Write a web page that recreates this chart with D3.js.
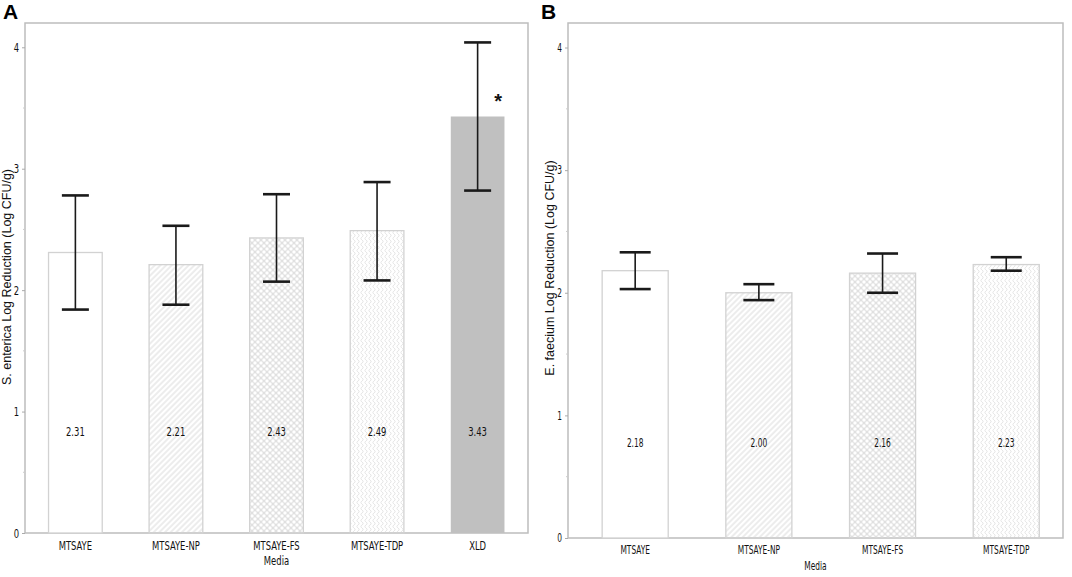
<!DOCTYPE html>
<html>
<head>
<meta charset="utf-8">
<script src="https://cdn.jsdelivr.net/npm/d3@7"></script>
<style>
  body { margin: 0; background: #fff; }
  svg { display: block; }
  .narrow { font-family: "Liberation Sans Narrow", "Arial Narrow", "DejaVu Sans Condensed", sans-serif; }
</style>
</head>
<body>
<svg id="fig" width="1072" height="577"></svg>
<script>
// Panel A: S. enterica
const mediaA = ["MTSAYE", "MTSAYE-NP", "MTSAYE-FS", "MTSAYE-TDP", "XLD"];
const meansA = [2.31, 2.21, 2.43, 2.49, 3.43];
const upperA = [2.78, 2.53, 2.79, 2.89, 4.04];
const lowerA = [1.84, 1.88, 2.07, 2.08, 2.82];
const fillsA = ["none", "hatch", "cross", "wave", "solid"];

// Panel B: E. faecium
const mediaB = ["MTSAYE", "MTSAYE-NP", "MTSAYE-FS", "MTSAYE-TDP"];
const meansB = [2.18, 2.00, 2.16, 2.23];
const upperB = [2.33, 2.07, 2.32, 2.29];
const lowerB = [2.03, 1.94, 2.00, 2.18];
const fillsB = ["none", "hatch", "cross", "wave"];

const yTicks = [0, 1, 2, 3, 4];
const yMinor = [0.5, 1.5, 2.5, 3.5];

const SX = 0.72; // horizontal squeeze to mimic the condensed face

const svg = d3.select("#fig");
const defs = svg.append("defs");

// fill patterns
const hatch = defs.append("pattern").attr("id", "hatch")
    .attr("patternUnits", "userSpaceOnUse").attr("width", 4).attr("height", 4)
    .attr("patternTransform", "rotate(45)");
hatch.append("line").attr("x1", 1).attr("y1", 0).attr("x2", 1).attr("y2", 4)
    .attr("stroke", "#d6d6d6").attr("stroke-width", 0.9);

const cross = defs.append("pattern").attr("id", "cross")
    .attr("patternUnits", "userSpaceOnUse").attr("width", 6).attr("height", 6);
[[3, 3], [0, 0], [6, 0], [0, 6], [6, 6]].forEach(c => {
    cross.append("circle").attr("cx", c[0]).attr("cy", c[1]).attr("r", 2.6)
        .attr("fill", "none").attr("stroke", "#dcdcdc").attr("stroke-width", 0.7);
});

const wave = defs.append("pattern").attr("id", "wave")
    .attr("patternUnits", "userSpaceOnUse").attr("width", 4).attr("height", 6);
wave.append("path").attr("d", "M2,0 C3.5,1 3.5,2 2,3 C0.5,4 0.5,5 2,6")
    .attr("fill", "none").attr("stroke", "#dadada").attr("stroke-width", 0.7);

function fillFor(f) {
    if (f === "solid") return "#c0c0c0";
    if (f === "none") return "#fff";
    return `url(#${f})`;
}

function squeeze(sel) {
    sel.each(function () {
        const t = d3.select(this);
        const xv = +t.attr("x") || 0;
        t.attr("x", xv / SX).attr("transform", `scale(${SX},1)`);
    });
}

function drawPanel(opt) {
    const { media, means, upper, lower, fills, x0, x1, y0, y1, align, title, letter, letterX,
            labelAt, cap, labelSize, tickSize, titleSize, titleX, titleY } = opt;

    const x = d3.scaleBand().domain(media).range([x0, x1])
        .paddingInner(0.466).paddingOuter(0.234).align(align);
    const y = d3.scaleLinear().domain([0, 4.2]).range([y0, y1]);

    const g = svg.append("g");

    // frame
    g.append("rect").attr("x", x0).attr("y", y1).attr("width", x1 - x0).attr("height", y0 - y1)
        .attr("fill", "none").attr("stroke", "#bdbdbd").attr("stroke-width", 1.5);

    // bars
    const rows = media.map((m, i) => ({ m, v: means[i], hi: upper[i], lo: lower[i], f: fills[i] }));
    g.selectAll("rect.bar").data(rows).enter().append("rect")
        .attr("class", "bar")
        .attr("x", d => x(d.m))
        .attr("y", d => y(d.v))
        .attr("width", x.bandwidth())
        .attr("height", d => y(0) - y(d.v))
        .attr("fill", d => fillFor(d.f))
        .attr("stroke", d => d.f === "solid" ? "none" : "#d2d2d2")
        .attr("stroke-width", 1.3);

    // value labels
    g.selectAll("text.val").data(rows).enter().append("text")
        .attr("class", "val narrow")
        .attr("x", d => x(d.m) + x.bandwidth() / 2)
        .attr("y", y(labelAt))
        .attr("text-anchor", "middle")
        .attr("dominant-baseline", "middle")
        .attr("font-size", labelSize)
        .attr("fill", "#111")
        .text(d => d.v.toFixed(2))
        .call(squeeze);

    // error bars
    const eb = g.selectAll("g.err").data(rows).enter().append("g")
        .attr("class", "err")
        .attr("stroke", "#1a1a1a");
    const cx = d => x(d.m) + x.bandwidth() / 2;
    eb.append("line").attr("x1", cx).attr("x2", cx).attr("y1", d => y(d.hi)).attr("y2", d => y(d.lo))
        .attr("stroke-width", 1.6);
    eb.append("line").attr("x1", d => cx(d) - cap / 2).attr("x2", d => cx(d) + cap / 2)
        .attr("y1", d => y(d.hi)).attr("y2", d => y(d.hi)).attr("stroke-width", 2.6);
    eb.append("line").attr("x1", d => cx(d) - cap / 2).attr("x2", d => cx(d) + cap / 2)
        .attr("y1", d => y(d.lo)).attr("y2", d => y(d.lo)).attr("stroke-width", 2.6);

    // y axis
    const ya = g.append("g").attr("transform", `translate(${x0},0)`)
        .call(d3.axisLeft(y).tickValues(yTicks).tickSize(3).tickPadding(3).tickFormat(d3.format("d")));
    ya.select(".domain").remove();
    ya.selectAll("line").attr("stroke", "#aaa");
    ya.selectAll("text").attr("class", "narrow").attr("font-size", tickSize).attr("fill", "#111").call(squeeze);

    g.selectAll("line.minor").data(yMinor).enter().append("line")
        .attr("class", "minor")
        .attr("x1", x0 - 2).attr("x2", x0).attr("y1", d => y(d)).attr("y2", d => y(d))
        .attr("stroke", "#ccc");

    // x axis
    const xa = g.append("g").attr("transform", `translate(0,${y0})`)
        .call(d3.axisBottom(x).tickSize(0).tickPadding(8));
    xa.select(".domain").remove();
    xa.selectAll("text").attr("class", "narrow").attr("font-size", tickSize).attr("fill", "#111").call(squeeze);

    g.append("text").attr("class", "narrow")
        .attr("x", (x0 + x1) / 2).attr("y", y0 + 29)
        .attr("text-anchor", "middle").attr("dominant-baseline", "middle")
        .attr("font-size", tickSize).attr("fill", "#111")
        .text("Media")
        .call(squeeze);

    // y title
    g.append("text")
        .attr("transform", `translate(${titleX},${titleY}) rotate(-90)`)
        .attr("text-anchor", "middle").attr("dominant-baseline", "middle")
        .attr("font-family", "Liberation Sans, Arial, sans-serif")
        .attr("font-size", titleSize).attr("fill", "#111")
        .text(title);

    // panel letter
    svg.append("text").attr("x", letterX).attr("y", 19)
        .attr("font-family", "Liberation Sans, Arial, sans-serif")
        .attr("font-weight", "bold").attr("font-size", 21).attr("fill", "#000")
        .text(letter);

    return { x, y, g };
}

const pa = drawPanel({
    media: mediaA, means: meansA, upper: upperA, lower: lowerA, fills: fillsA,
    x0: 25, x1: 528, y0: 533, y1: 23, align: 0.5,
    title: "S. enterica Log Reduction (Log CFU/g)", letter: "A", letterX: 3,
    labelAt: 0.83, cap: 27, labelSize: 13, tickSize: 13, titleSize: 12.5, titleX: 8, titleY: 277
});

// significance mark on XLD
pa.g.append("text")
    .attr("x", pa.x("XLD") + pa.x.bandwidth() * 0.88)
    .attr("y", pa.y(3.5))
    .attr("text-anchor", "middle")
    .attr("font-family", "Liberation Sans, Arial, sans-serif")
    .attr("font-weight", "bold").attr("font-size", 20).attr("fill", "#111")
    .text("*");

drawPanel({
    media: mediaB, means: meansB, upper: upperB, lower: lowerB, fills: fillsB,
    x0: 568, x1: 1063, y0: 538, y1: 23, align: 0.59,
    title: "E. faecium Log Reduction (Log CFU/g)", letter: "B", letterX: 541,
    labelAt: 0.77, cap: 31, labelSize: 11.5, tickSize: 11.5, titleSize: 12.5, titleX: 551, titleY: 268
});
</script>
</body>
</html>
